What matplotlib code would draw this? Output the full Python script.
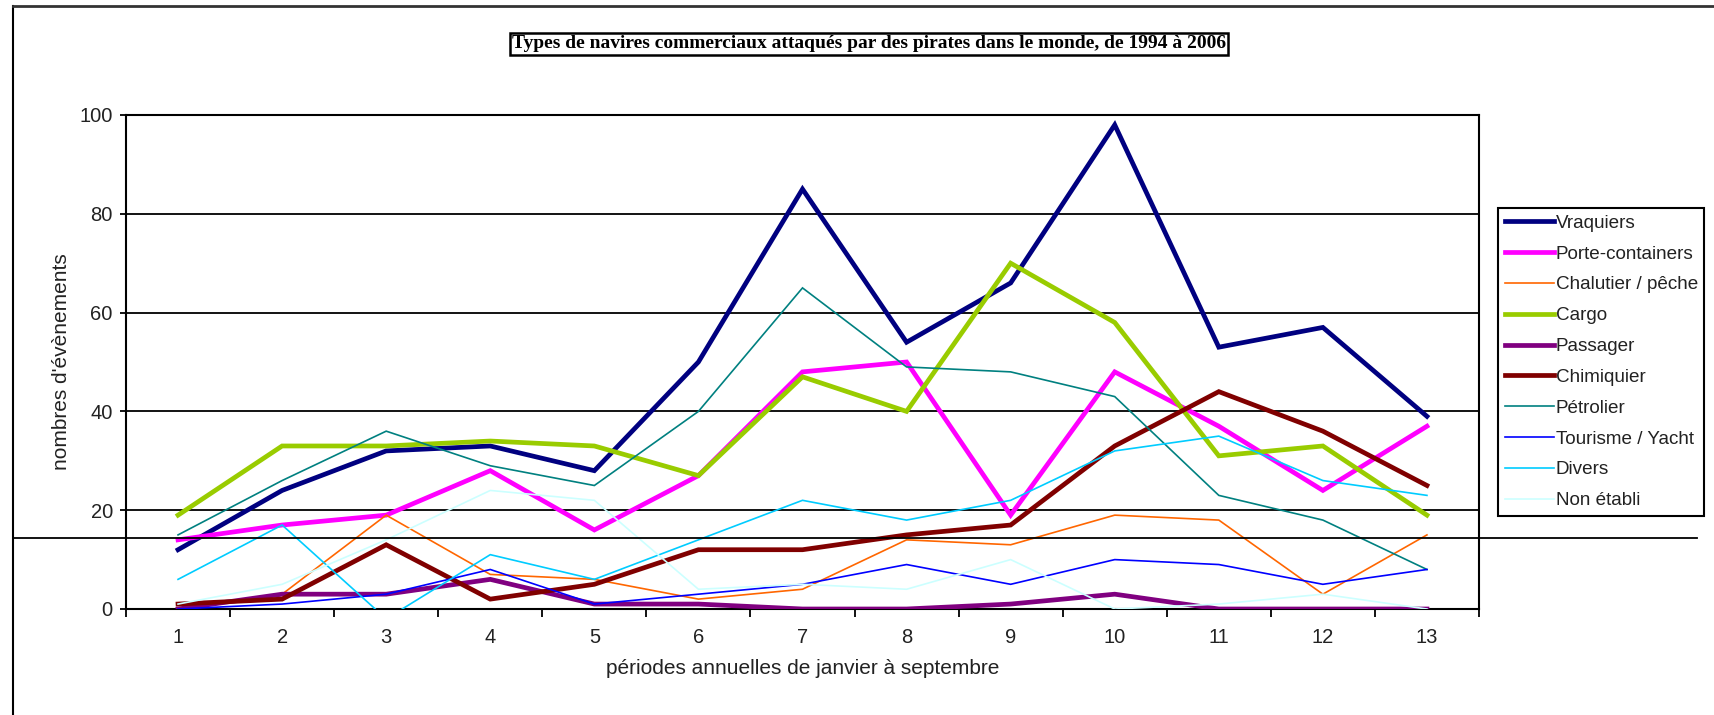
import matplotlib
matplotlib.use("Agg")
import matplotlib.pyplot as plt
from matplotlib.lines import Line2D
import numpy as np

plt.rcParams['font.family'] = ['Liberation Sans', 'DejaVu Sans']

periods = list(range(1, 14))
series_names = ["Vraquiers", "Porte-containers", "Chalutier / pêche", "Cargo", "Passager",
                "Chimiquier", "Pétrolier", "Tourisme / Yacht", "Divers", "Non établi"]

vraquiers = [12, 24, 32, 33, 28, 50, 85, 54, 66, 98, 53, 57, 39]
porte_containers = [14, 17, 19, 28, 16, 27, 48, 50, 19, 48, 37, 24, 37]
chalutier = [0, 3, 19, 7, 6, 2, 4, 14, 13, 19, 18, 3, 15]
cargo = [19, 33, 33, 34, 33, 27, 47, 40, 70, 58, 31, 33, 19]
passager = [0, 3, 3, 6, 1, 1, 0, 0, 1, 3, 0, 0, 0]
chimiquier = [1, 2, 13, 2, 5, 12, 12, 15, 17, 33, 44, 36, 25]
petrolier = [15, 26, 36, 29, 25, 40, 65, 49, 48, 43, 23, 18, 8]
tourisme = [0, 1, 3, 8, 1, 3, 5, 9, 5, 10, 9, 5, 8]
divers = [6, 17, -2, 11, 6, 14, 22, 18, 22, 32, 35, 26, 23]
non_etabli = [1, 5, 14, 24, 22, 4, 5, 4, 10, 0, 1, 3, 0]

all_series = [vraquiers, porte_containers, chalutier, cargo, passager,
              chimiquier, petrolier, tourisme, divers, non_etabli]
colors = ["#000080", "#FF00FF", "#FF6600", "#99CC00", "#800080",
          "#800000", "#008080", "#0000FF", "#00CCFF", "#CCFFFF"]
widths = [3.4, 3.4, 1.2, 3.4, 3.4, 3.4, 1.2, 1.2, 1.2, 1.2]

W, H = 1715, 715
fig = plt.figure(figsize=(W / 100, H / 100), dpi=100)
ax = fig.add_axes([126 / W, 1 - 609 / H, (1479 - 126) / W, (609 - 115) / H])

for name, vals, c, lw in zip(series_names, all_series, colors, widths):
    ax.plot(periods, vals, color=c, lw=lw, label=name, solid_joinstyle='miter', zorder=3)

ax.set_xlim(0.5, 13.5)
ax.set_ylim(0, 100)
ax.set_yticks(range(0, 101, 20))
ax.yaxis.grid(True, color='black', lw=1.3, zorder=1)
ax.set_axisbelow(True)
ax.set_xticks(periods)
ax.set_xticks(np.arange(0.5, 14.0, 1.0), minor=True)
ax.tick_params(axis='x', which='major', length=0, pad=14, labelsize=14.5, colors='#222222')
ax.tick_params(axis='x', which='minor', length=6, width=1.3, direction='out', color='black')
ax.tick_params(axis='y', which='major', length=4.5, width=1.3, direction='out', pad=5,
               labelsize=14.5, colors='black', labelcolor='#222222')
for s in ax.spines.values():
    s.set_color('black')
    s.set_linewidth(1.5)

ax.set_xlabel("périodes annuelles de janvier à septembre", fontsize=15, color='#222222', labelpad=8)
ax.set_ylabel("nombres d'évènements", fontsize=15, color='#222222', labelpad=6)

leg = fig.legend(loc='upper left', bbox_to_anchor=(1498 / W, 1 - 208 / H), borderaxespad=0,
                 fancybox=False, edgecolor='black', fontsize=13.6, handlelength=2.6,
                 handletextpad=0.1, labelspacing=0.72, borderpad=0.35, framealpha=1)
leg.get_frame().set_linewidth(1.5)
for t in leg.get_texts():
    t.set_color('#222222')

fig.text(869 / W, 1 - 44 / H,
         "Types de navires commerciaux attaqués par des pirates dans le monde, de 1994 à 2006",
         ha='center', va='center', fontsize=14, fontweight='bold', family='Liberation Serif',
         bbox=dict(boxstyle='square,pad=0.12', facecolor='white', edgecolor='black', linewidth=1.8))

# figure frame lines and stray horizontal line
fig.add_artist(Line2D([13 / W, 13 / W], [0, 1 - 6 / H], color='black', lw=1.5, transform=fig.transFigure))
fig.add_artist(Line2D([13 / W, 1], [1 - 6 / H, 1 - 6 / H], color='#333333', lw=2.0, transform=fig.transFigure))
fig.add_artist(Line2D([13 / W, 1697 / W], [1 - 538 / H, 1 - 538 / H], color='black', lw=1.3,
                      transform=fig.transFigure))

fig.savefig("out.png", dpi=100)
